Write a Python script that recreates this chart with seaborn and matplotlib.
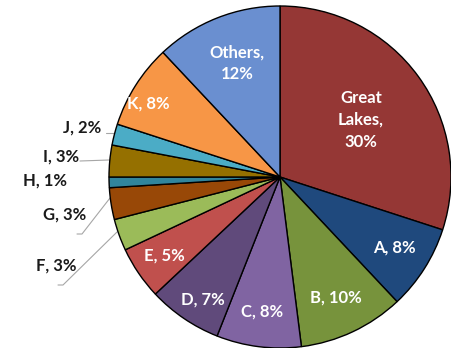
import matplotlib
matplotlib.use("Agg")
import matplotlib.pyplot as plt
import seaborn as sns

sns.set_theme(style="white")
plt.rcParams['font.family'] = ['Lato', 'DejaVu Sans']

categories = ["Great Lakes", "A", "B", "C", "D", "E", "F", "G", "H", "I", "J", "K", "Others"]
values = [30, 8, 10, 8, 7, 5, 3, 3, 1, 3, 2, 8, 12]
label_texts = ["Great\nLakes,\n30%", "A, 8%", "B, 10%", "C, 8%", "D, 7%", "E, 5%",
               "F, 3%", "G, 3%", "H, 1%", "I, 3%", "J, 2%", "K, 8%", "Others,\n12%"]
colors = ["#953735", "#1F497D", "#77933C", "#8064A2", "#604A7B", "#C0504D",
          "#9BBB59", "#984807", "#31859C", "#957000", "#4BACC6", "#F79646", "#6A8FD0"]
palette = sns.color_palette(colors)

W, H = 452, 348
cx, cy, R = 280, 177, 171

fig = plt.figure(figsize=(W / 100, H / 100), dpi=100)
ax = fig.add_axes([0, 0, 1, 1])
ax.pie(values, colors=palette, startangle=90, counterclock=False, radius=1,
       wedgeprops=dict(edgecolor="black", linewidth=1.0))
ax.set_xlim(-cx / R, (W - cx) / R)
ax.set_ylim(-(H - cy) / R, cy / R)
ax.set_aspect("equal")
ax.axis("off")


def P(px, py):
    return ((px - cx) / R, (cy - py) / R)


# label positions (pixel coords) -- layout only
inside = {
    0: (361, 120), 1: (394, 248), 2: (336, 298), 3: (262, 312), 4: (203, 300),
    5: (164, 256), 11: (148, 104), 12: (237, 63),
}
outside = {6: (56, 266), 7: (65, 215), 8: (45, 181), 9: (61, 157), 10: (82, 128)}

FS = 12
for i, (px, py) in inside.items():
    x, y = P(px, py)
    ax.text(x, y, label_texts[i], color="white", fontsize=FS, fontweight="bold",
            ha="center", va="center", linespacing=1.45)
for i, (px, py) in outside.items():
    x, y = P(px, py)
    ax.text(x, y, label_texts[i], color="#1a1a1a", fontsize=FS, fontweight="bold",
            ha="center", va="center")

# leader lines
leaders = [
    [(58, 285), (63, 285), (117, 232)],   # F
    [(77, 234), (82, 234), (110, 198)],   # G
    [(80, 161), (109, 160)],              # I
    [(106, 133), (115, 133)],             # J
]
for pts in leaders:
    xs, ys = zip(*[P(a, b) for a, b in pts])
    ax.plot(xs, ys, color="#a6a6a6", linewidth=0.8, zorder=0)

fig.savefig("out.png", dpi=100, facecolor="white")
